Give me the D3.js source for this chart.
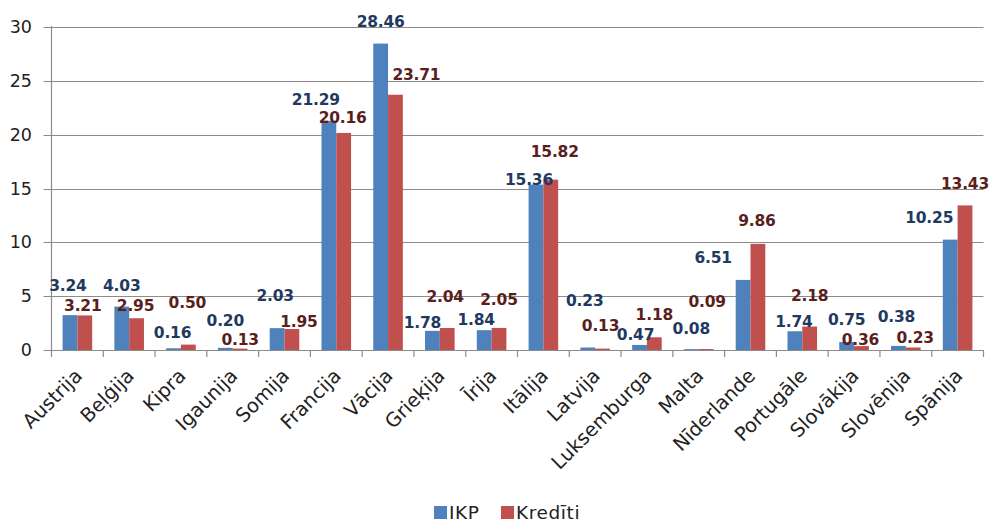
<!DOCTYPE html>
<html>
<head>
<meta charset="utf-8">
<script src="https://cdn.jsdelivr.net/npm/d3@7/dist/d3.min.js"></script>
<style>
  html, body { margin: 0; padding: 0; background: #ffffff; }
  svg { display: block; }
</style>
</head>
<body>
<svg id="chart" width="992" height="524"></svg>
<script>
// Country names (Latvian)
const categories = ["Austrija", "Beļģija", "Kipra", "Igaunija", "Somija", "Francija", "Vācija",
  "Grieķija", "Īrija", "Itālija", "Latvija", "Luksemburga", "Malta", "Nīderlande",
  "Portugāle", "Slovākija", "Slovēnija", "Spānija"];

// Share, %
const ikp = [3.24, 4.03, 0.16, 0.20, 2.03, 21.29, 28.46, 1.78, 1.84, 15.36, 0.23, 0.47, 0.08, 6.51, 1.74, 0.75, 0.38, 10.25];
const krediti = [3.21, 2.95, 0.50, 0.13, 1.95, 20.16, 23.71, 2.04, 2.05, 15.82, 0.13, 1.18, 0.09, 9.86, 2.18, 0.36, 0.23, 13.43];

const seriesNames = ["IKP", "Kredīti"];
const yTicks = [0, 5, 10, 15, 20, 25, 30];

// Hand-placed data label nudges [dx, dy] relative to bar centre / bar top
const ikpLabelShift = [[-2,-29],[0,-21],[-1,-15],[0,-27],[-2,-32],[-13,-21],[0,-22],[-10,-8],[-8,-10],
  [-7,-5],[-3,-47],[-4,-10],[0,-20],[-30,-22],[-1,-9],[0,-22],[-2,-29],[-21,-22]];
const kreditiLabelShift = [[-2,-9],[-1,-12],[-1,-42],[0,-9],[7,-7],[-1,-15],[21,-20],[-2,-31],[0,-28],
  [4,-28],[-2,-23],[0,-22],[1,-47],[-1,-23],[0,-31],[-1,-6],[2,-10],[0,-21]];

const colors = ["#4f81bd", "#c0504d"];
const labelColors = ["#1f3a60", "#5a1e1c"];
const gridColor = "#8c8c8c";
const font = "DejaVu Sans, Verdana, sans-serif";

const svg = d3.select("#chart");
const plot = { left: 51.5, right: 983.5, top: 27, bottom: 350 };

const x = d3.scaleBand().domain(categories).range([plot.left, plot.right]).paddingInner(0).paddingOuter(0);
// 150% gap between groups: two bars take 2/3.5 of each band
const barW = x.bandwidth() / 3.5;
const y = d3.scaleLinear().domain([0, 30]).range([plot.bottom, plot.top]);

// Horizontal gridlines (with short left tick marks)
svg.append("g").selectAll("line").data(yTicks.filter(t => t > 0)).join("line")
  .attr("x1", plot.left - 8).attr("x2", plot.right)
  .attr("y1", d => Math.round(y(d)) + 0.5).attr("y2", d => Math.round(y(d)) + 0.5)
  .attr("stroke", gridColor).attr("stroke-width", 1.2);

// Y tick labels
svg.append("g").selectAll("text").data(yTicks).join("text")
  .attr("x", 32).attr("y", d => y(d))
  .attr("text-anchor", "end").attr("dominant-baseline", "central")
  .attr("font-family", font).attr("font-size", 17.5)
  .attr("fill", "#222").text(d => d);

// Bars
const seriesData = [ikp, krediti];
const shifts = [ikpLabelShift, kreditiLabelShift];
const barX = (i, s) => x(categories[i]) + x.bandwidth() / 2 - barW + s * barW;

seriesData.forEach((vals, s) => {
  svg.append("g").selectAll("rect").data(vals).join("rect")
    .attr("x", (d, i) => barX(i, s))
    .attr("y", d => y(d))
    .attr("width", barW)
    .attr("height", d => y(0) - y(d))
    .attr("fill", colors[s]);
});

// Axes lines
svg.append("line").attr("x1", plot.left - 8).attr("x2", plot.right)
  .attr("y1", plot.bottom + 0.5).attr("y2", plot.bottom + 0.5)
  .attr("stroke", gridColor).attr("stroke-width", 1.2);
svg.append("line").attr("x1", plot.left).attr("x2", plot.left)
  .attr("y1", plot.top - 1).attr("y2", plot.bottom + 7)
  .attr("stroke", gridColor).attr("stroke-width", 1.2);
// Category boundary ticks
svg.append("g").selectAll("line").data(categories).join("line")
  .attr("x1", d => x(d) + x.bandwidth()).attr("x2", d => x(d) + x.bandwidth())
  .attr("y1", plot.bottom).attr("y2", plot.bottom + 7)
  .attr("stroke", gridColor).attr("stroke-width", 1.2);

// Data labels
seriesData.forEach((vals, s) => {
  svg.append("g").selectAll("text").data(vals).join("text")
    .attr("x", (d, i) => barX(i, s) + barW / 2 + shifts[s][i][0])
    .attr("y", (d, i) => y(d) + shifts[s][i][1])
    .attr("text-anchor", "middle").attr("dominant-baseline", "central")
    .attr("font-family", font).attr("font-size", 15.5)
    .attr("font-weight", "bold").attr("letter-spacing", -0.2)
    .attr("fill", labelColors[s])
    .text(d => d.toFixed(2));
});

// Category labels, rotated 45°
svg.append("g").selectAll("text").data(categories).join("text")
  .attr("transform", d => `translate(${x(d) + x.bandwidth() / 2 + 6},${plot.bottom + 27}) rotate(-45)`)
  .attr("text-anchor", "end")
  .attr("font-family", font).attr("font-size", 19.5)
  .attr("fill", "#222").text(d => d);

// Legend
const legend = svg.append("g");
const legendItems = [{ x: 434, name: seriesNames[0] }, { x: 501, name: seriesNames[1] }];
legendItems.forEach((it, s) => {
  legend.append("rect").attr("x", it.x).attr("y", 506).attr("width", 13).attr("height", 13).attr("fill", colors[s]);
  legend.append("text").attr("x", it.x + 15).attr("y", 519)
    .attr("font-family", font).attr("font-size", 18.5).attr("letter-spacing", 0.6)
    .attr("fill", "#222").text(it.name);
});
</script>
</body>
</html>
